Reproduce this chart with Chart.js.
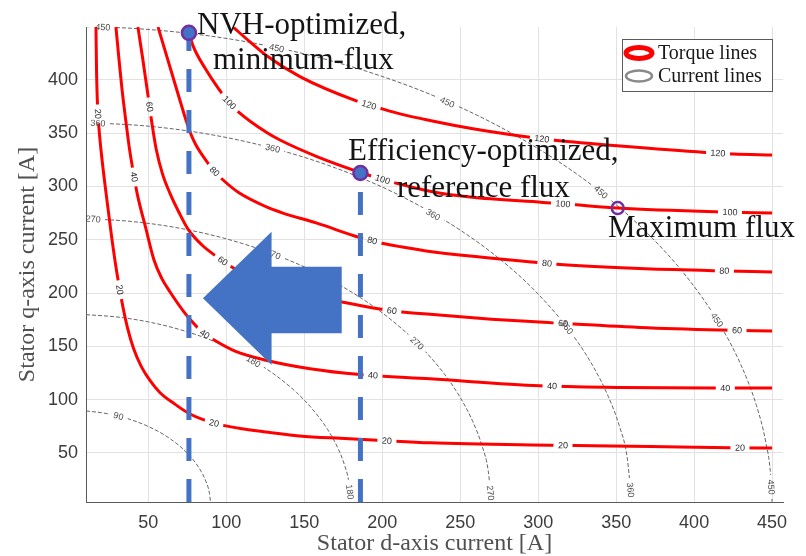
<!DOCTYPE html>
<html>
<head>
<meta charset="utf-8">
<title>Torque and current contours</title>
<script src="https://cdn.jsdelivr.net/npm/chart.js@4.4.1/dist/chart.umd.min.js"></script>
<style>
  html, body { margin: 0; padding: 0; background: #fff; }
  #wrap { width: 806px; height: 556px; }
</style>
</head>
<body>
<div id="wrap"><canvas id="chart" width="806" height="556"></canvas></div>
<script>
// ---------- data ----------
// torque contours [Nm], each given as d-axis / q-axis current pairs [A]
const torqueLevels = [20, 40, 60, 80, 100, 120];

const torque20Id = [16.4, 16.7, 17.3, 18.3, 20, 23, 26.5, 29.8, 33, 36.5, 40.5, 45.5, 51, 57.5, 65.8, 76.7, 92, 108.8, 125.4, 147, 173, 196.6, 230.6, 312, 372, 423, 450];
const torque20Iq = [449.5, 414, 379, 355, 329, 292, 252, 219, 192, 168, 148, 131, 118, 106.5, 97, 86.5, 78, 73, 69.7, 66, 63.7, 62, 59.5, 57.3, 56, 54.8, 54.6];

const torque40Id = [29.2, 31.1, 33.1, 35.5, 38, 40.5, 43, 48.3, 53.6, 58.5, 63.9, 75.4, 85.7, 91.5, 105.6, 125.4, 153.7, 185.7, 230.6, 301, 352.5, 412, 450];
const torque40Iq = [449.5, 420, 391, 362, 334, 312, 292, 261, 231, 214, 201, 177.5, 162, 156.5, 145.5, 137, 129, 123.5, 119.5, 113, 111.5, 110.9, 110.9];

const torque60Id = [43.3, 46.5, 49.7, 52, 55, 59, 64, 69.5, 75.4, 84.4, 93.4, 101.7, 114, 128, 150, 174.2, 198.5, 211.4, 230.6, 270, 309.5, 365, 416.6, 450];
const torque60Iq = [449.5, 418.6, 386, 362, 335, 312, 293, 276, 260, 245, 234.5, 226, 216, 208.5, 199, 191.6, 185, 182.5, 180, 175.5, 172, 167.7, 165.3, 164.4];

const torque80Id = [56.2, 65, 74.1, 76.7, 80.5, 88.9, 92.1, 97.9, 108.1, 125.4, 136.3, 158.1, 185.7, 200.5, 211.4, 230.6, 301, 314, 365, 412, 450];
const torque80Iq = [449.5, 406.4, 362.3, 351, 338.8, 320.5, 314.5, 306, 294, 281, 275, 265.5, 252, 246.5, 243.5, 239, 228.5, 226.8, 223, 221, 219.8];

const torque100Id = [75.1, 76.1, 78.6, 86.3, 95.3, 101.7, 108.1, 125.4, 134.4, 158.1, 187, 200.5, 206.9, 230.6, 256.3, 303, 322, 351, 416.6, 450];
const torque100Iq = [449.5, 444, 432, 411, 391, 379, 369.5, 351, 343.5, 328, 312.6, 306.5, 303.8, 295.5, 290, 285, 283, 279.7, 276, 275];

const torque120Id = [104.3, 115.2, 125.4, 147.2, 183.8, 200.5, 211.4, 230.6, 256.3, 294.7, 312, 352.5, 407, 425, 450];
const torque120Iq = [449.5, 435.5, 423, 403, 380, 372.5, 368, 361.8, 354.5, 346, 343, 337.8, 331.8, 330.4, 329.5];

// current magnitude contours [A]
const currentLevels = [90, 180, 270, 360, 450];

const current90Id = [10, 20, 30, 40, 50, 60, 70, 75, 80, 84, 87, 89, 89.9];
const current90Iq = [89.4, 87.7, 84.9, 80.6, 74.8, 67.1, 56.6, 49.7, 41.2, 32.3, 23.0, 13.4, 4];

const current180Id = [10, 30, 50, 70, 90, 110, 130, 145, 155, 165, 172, 176, 178.5, 179.95];
const current180Iq = [179.7, 177.5, 172.9, 165.8, 155.9, 142.5, 124.5, 106.7, 91.5, 71.9, 53.1, 37.7, 23.2, 4];

const current270Id = [10, 40, 70, 100, 130, 160, 190, 210, 225, 240, 250, 258, 264, 268, 269.97];
const current270Iq = [269.8, 267.0, 260.8, 250.8, 236.6, 217.5, 191.8, 169.7, 149.2, 123.7, 102.0, 79.6, 56.6, 32.8, 4];

const current360Id = [10, 50, 90, 130, 170, 210, 250, 280, 300, 320, 335, 345, 352, 357, 359.98];
const current360Iq = [359.9, 356.5, 348.6, 335.7, 317.3, 292.4, 259.0, 226.3, 199.0, 164.9, 131.8, 102.8, 75.5, 46.4, 4];

const current450Id = [10, 40, 75, 110, 150, 190, 230, 270, 310, 340, 370, 395, 415, 430, 440, 446, 449, 449.98];
const current450Iq = [449.9, 448.2, 443.7, 436.4, 424.3, 407.9, 386.8, 360.0, 326.2, 294.8, 256.1, 215.6, 174.0, 132.7, 94.3, 59.9, 30.0, 4];

// where the inline contour labels sit (d-, q-axis current)
const torqueLabelAt = [
  [[17.05, 367.9], [30.5, 202.8], [92.1, 78.1], [203, 62.2], [315.9, 55.6], [429.4, 54.6]],
  [[40.8, 308.8], [85.7, 160.6], [194.1, 123.1], [308.9, 112.8], [420, 110.9]],
  [[50.4, 374.5], [97.2, 229.1], [206.2, 184.1], [315.9, 170], [427.5, 164.4]],
  [[92.1, 313.5], [193.4, 247.9], [305.6, 228.2], [419.4, 219.7]],
  [[101.7, 378.2], [200.5, 307.9], [315.9, 284], [423, 275.1]],
  [[190.9, 373.5], [302.4, 345.4], [415.3, 330.4]]
];
const currentLabelAt = [
  [[30.5, 82.8]],
  [[117.1, 135.3], [179.3, 13.4]],
  [[14.5, 268.5], [129.9, 235.7], [222.3, 153.1], [269.1, 12.4]],
  [[17.7, 360.4], [129.9, 337], [232.5, 273.2], [318.5, 168.1], [358.9, 15.3]],
  [[20.9, 449.5], [132.5, 430.8], [241.5, 378.2], [339.6, 293.8], [414.7, 174.7], [448.7, 18]]
];

// operating points: NVH-optimized, efficiency-optimized, maximum flux
const opId = [76, 186, 351];
const opIq = [444, 312.6, 279.7];

// axis ticks
const xTicks = [50, 100, 150, 200, 250, 300, 350, 400, 450];
const yTicks = [50, 100, 150, 200, 250, 300, 350, 400];
const xMin = 10, xMax = 457, yMin = 4, yMax = 449.5;

// ---------- datasets ----------
const toPoints = (ids, iqs) => ids.map((id, i) => ({ x: id, y: iqs[i] }));

const torqueCurves = [
  toPoints(torque20Id, torque20Iq), toPoints(torque40Id, torque40Iq), toPoints(torque60Id, torque60Iq),
  toPoints(torque80Id, torque80Iq), toPoints(torque100Id, torque100Iq), toPoints(torque120Id, torque120Iq)
];
const currentCurves = [
  toPoints(current90Id, current90Iq), toPoints(current180Id, current180Iq), toPoints(current270Id, current270Iq),
  toPoints(current360Id, current360Iq), toPoints(current450Id, current450Iq)
];

const BLUE = '#4472c4', PURPLE = '#7030a0';

// first dataset is drawn on top, so markers go first
const datasets = [
  {
    data: toPoints(opId.slice(0, 2), opIq.slice(0, 2)),
    showLine: false, clip: false,
    pointRadius: 7, pointBackgroundColor: BLUE, pointBorderColor: PURPLE, pointBorderWidth: 2.5
  },
  {
    data: toPoints(opId.slice(2), opIq.slice(2)),
    showLine: false, clip: false,
    pointRadius: 6, pointBackgroundColor: 'rgba(255,255,255,0)', pointBorderColor: PURPLE, pointBorderWidth: 2.5
  }
];
// vertical guides from the axis up to the two optimized points
opId.slice(0, 2).forEach((id, i) => {
  datasets.push({
    data: [{ x: id, y: yMin }, { x: id, y: opIq[i] }],
    showLine: true, pointRadius: 0,
    borderColor: BLUE, borderWidth: 5, borderDash: [23, 18], borderCapStyle: 'butt'
  });
});
const torqueStart = datasets.length;
torqueCurves.forEach(pts => datasets.push({
  data: pts, showLine: true, pointRadius: 0,
  borderColor: '#ff0000', borderWidth: 3, cubicInterpolationMode: 'monotone'
}));
const currentStart = datasets.length;
currentCurves.forEach(pts => datasets.push({
  data: pts, showLine: true, pointRadius: 0,
  borderColor: '#666666', borderWidth: 1, borderDash: [4, 2], cubicInterpolationMode: 'monotone'
}));

// ---------- contour labels ----------
const LABEL_FONT = '9px "Liberation Sans", Arial, sans-serif';

// snap every label anchor onto its curve and take the local direction
function placeLabels(chart, dsIndex, anchors, text) {
  const pts = chart.getDatasetMeta(dsIndex).data.map(p => ({ x: p.x, y: p.y }));
  const xs = chart.scales.x, ys = chart.scales.y;
  const ctx = chart.ctx;
  ctx.save();
  ctx.font = LABEL_FONT;
  const w = ctx.measureText(text).width;
  ctx.restore();
  return anchors.map(([id, iq]) => {
    const ax = xs.getPixelForValue(id), ay = ys.getPixelForValue(iq);
    let best = null;
    for (let i = 0; i < pts.length - 1; i++) {
      const a = pts[i], b = pts[i + 1];
      const dx = b.x - a.x, dy = b.y - a.y;
      let t = ((ax - a.x) * dx + (ay - a.y) * dy) / (dx * dx + dy * dy || 1);
      t = Math.max(0, Math.min(1, t));
      const px = a.x + t * dx, py = a.y + t * dy;
      const d = (px - ax) ** 2 + (py - ay) ** 2;
      if (!best || d < best.d) best = { d, x: px, y: py, angle: Math.atan2(dy, dx) };
    }
    let angle = best.angle;
    if (angle > Math.PI / 2) angle -= Math.PI;
    if (angle < -Math.PI / 2) angle += Math.PI;
    return { x: best.x, y: best.y, angle, text, w: w + 9, h: 10 };
  });
}

function boxCorners(l) {
  const c = Math.cos(l.angle), s = Math.sin(l.angle);
  const hw = l.w / 2, hh = l.h / 2;
  return [[-hw, -hh], [hw, -hh], [hw, hh], [-hw, hh]].map(([u, v]) => [l.x + u * c - v * s, l.y + u * s + v * c]);
}

const contourLabels = {
  id: 'contourLabels',
  beforeDatasetsDraw(chart) {
    const labels = {};
    torqueLevels.forEach((lvl, k) => {
      labels[torqueStart + k] = placeLabels(chart, torqueStart + k, torqueLabelAt[k], String(lvl));
    });
    currentLevels.forEach((lvl, k) => {
      labels[currentStart + k] = placeLabels(chart, currentStart + k, currentLabelAt[k], String(lvl));
    });
    chart.$labels = labels;
  },
  // break the contour line where its labels go
  beforeDatasetDraw(chart, args) {
    const labs = chart.$labels && chart.$labels[args.index];
    if (!labs) return;
    const ctx = chart.ctx;
    ctx.save();
    ctx.beginPath();
    ctx.rect(0, 0, chart.width, chart.height);
    labs.forEach(l => {
      const c = boxCorners(l);
      ctx.moveTo(c[0][0], c[0][1]);
      for (let i = 1; i < 4; i++) ctx.lineTo(c[i][0], c[i][1]);
      ctx.closePath();
    });
    ctx.clip('evenodd');
  },
  afterDatasetDraw(chart, args) {
    if (chart.$labels && chart.$labels[args.index]) chart.ctx.restore();
  },
  afterDatasetsDraw(chart) {
    const ctx = chart.ctx;
    ctx.save();
    ctx.font = LABEL_FONT;
    ctx.textAlign = 'center';
    ctx.textBaseline = 'middle';
    Object.keys(chart.$labels).forEach(k => {
      const isTorque = Number(k) < currentStart;
      ctx.fillStyle = isTorque ? '#2b2b2b' : '#4a4a4a';
      chart.$labels[k].forEach(l => {
        ctx.save();
        ctx.translate(l.x, l.y);
        ctx.rotate(l.angle);
        ctx.fillText(l.text, 0, 0.5);
        ctx.restore();
      });
    });
    ctx.restore();
  }
};

// ---------- arrow, annotations, legend ----------
const arrowShape = [[85, 195], [129, 257.5], [129, 224.7], [174, 224.7], [174, 162.2], [129, 162.2], [129, 132.5]];
const notes = [
  { text: 'NVH-optimized,', id: 81.2, iq: 443.4 },
  { text: 'minimum-flux', id: 91.4, iq: 410.1 },
  { text: 'Efficiency-optimized,', id: 178, iq: 324.8 },
  { text: 'reference flux', id: 209.4, iq: 289.6 },
  { text: 'Maximum flux', id: 344.8, iq: 252.5 }
];

const overlay = {
  id: 'overlay',
  afterDatasetsDraw(chart) {
    const { ctx, chartArea } = chart;
    const xs = chart.scales.x, ys = chart.scales.y;

    // big arrow pointing toward lower d-axis current
    ctx.save();
    ctx.fillStyle = BLUE;
    ctx.beginPath();
    arrowShape.forEach(([id, iq], i) => {
      const px = xs.getPixelForValue(id), py = ys.getPixelForValue(iq);
      if (i === 0) ctx.moveTo(px, py); else ctx.lineTo(px, py);
    });
    ctx.closePath();
    ctx.fill();
    ctx.restore();

    // operating point captions
    ctx.save();
    ctx.font = '31px "Liberation Serif", "Times New Roman", serif';
    ctx.fillStyle = '#141414';
    ctx.textBaseline = 'alphabetic';
    notes.forEach(n => ctx.fillText(n.text, xs.getPixelForValue(n.id), ys.getPixelForValue(n.iq)));
    ctx.restore();

    // legend box, top right
    const bx = chartArea.right - 161, by = chartArea.top + 12, bw = 150, bh = 52;
    ctx.save();
    ctx.fillStyle = '#fff';
    ctx.fillRect(bx, by, bw, bh);
    ctx.strokeStyle = '#5a5a5a';
    ctx.lineWidth = 1;
    ctx.strokeRect(bx + 0.5, by + 0.5, bw, bh);
    const rows = [
      { text: 'Torque lines', color: '#ff0000', lw: 5 },
      { text: 'Current lines', color: '#8a8a8a', lw: 2.5 }
    ];
    rows.forEach((r, i) => {
      const cy = by + 14 + i * 23;
      ctx.strokeStyle = r.color;
      ctx.lineWidth = r.lw;
      ctx.beginPath();
      ctx.ellipse(bx + 17, cy, 13, 5.5, 0, 0, Math.PI * 2);
      ctx.stroke();
      ctx.fillStyle = '#1a1a1a';
      ctx.font = '20px "Liberation Serif", "Times New Roman", serif';
      ctx.textBaseline = 'middle';
      ctx.fillText(r.text, bx + 36, cy + 1);
    });
    ctx.restore();
  }
};

// ---------- chart ----------
const tickFont = { family: '"Liberation Sans", Arial, sans-serif', size: 18 };
const titleFont = { family: '"Liberation Serif", "Times New Roman", serif', size: 24, lineHeight: 1 };

new Chart(document.getElementById('chart'), {
  type: 'scatter',
  data: { datasets },
  options: {
    responsive: false,
    animation: false,
    devicePixelRatio: 1,
    events: [],
    layout: { padding: { top: 27, right: 23, left: 0, bottom: 0 } },
    plugins: { legend: { display: false }, tooltip: { enabled: false } },
    scales: {
      x: {
        type: 'linear', min: xMin, max: xMax,
        afterBuildTicks: s => { s.ticks = xTicks.map(v => ({ value: v })); },
        afterFit: s => { s.height = 54; },
        grid: { color: '#e2e2e2', drawTicks: false },
        border: { color: '#5a5a5a' },
        ticks: { padding: 10, font: tickFont, color: '#3c3c3c', maxRotation: 0 },
        title: { display: true, text: 'Stator d-axis current [A]', font: titleFont, color: '#505050', padding: { top: 0, bottom: 0 } }
      },
      y: {
        type: 'linear', min: yMin, max: yMax,
        afterBuildTicks: s => { s.ticks = yTicks.map(v => ({ value: v })); },
        afterFit: s => { s.width = 86; },
        grid: { color: '#e2e2e2', drawTicks: false },
        border: { color: '#5a5a5a' },
        ticks: { padding: 8, font: tickFont, color: '#3c3c3c' },
        title: { display: true, text: 'Stator q-axis current [A]', font: titleFont, color: '#505050', padding: { top: 16, bottom: 0 } }
      }
    }
  },
  plugins: [contourLabels, overlay]
});
</script>
</body>
</html>
